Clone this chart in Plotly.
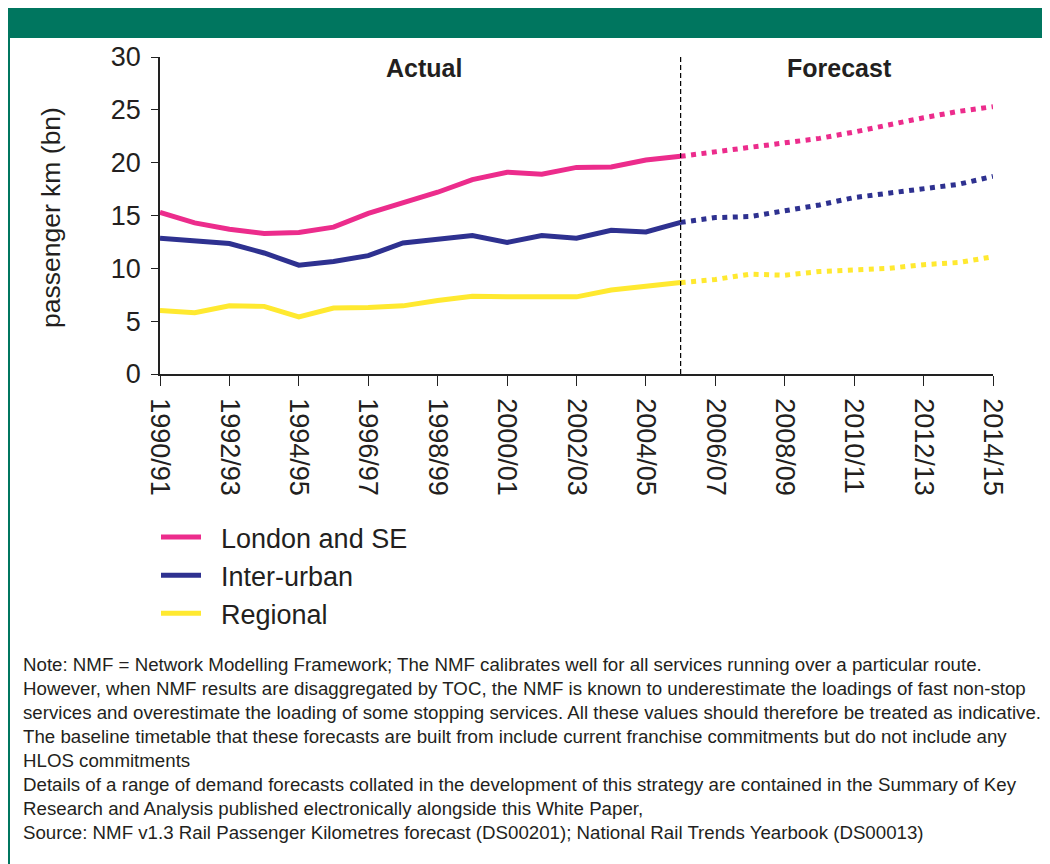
import plotly.graph_objects as go

# ---------------- data ----------------
years = ["1990/91", "1991/92", "1992/93", "1993/94", "1994/95", "1995/96", "1996/97",
         "1997/98", "1998/99", "1999/00", "2000/01", "2001/02", "2002/03", "2003/04",
         "2004/05", "2005/06", "2006/07", "2007/08", "2008/09", "2009/10", "2010/11",
         "2011/12", "2012/13", "2013/14", "2014/15"]
actual_years = years[:16]
forecast_years = years[15:]

london_actual = [15.3, 14.3, 13.7, 13.3, 13.4, 13.9, 15.2, 16.2, 17.2, 18.4, 19.1, 18.9,
                 19.55, 19.6, 20.25, 20.6]
interurban_actual = [12.85, 12.6, 12.35, 11.45, 10.3, 10.65, 11.2, 12.4, 12.7, 13.1,
                     12.45, 13.1, 12.85, 13.6, 13.45, 14.35]
regional_actual = [6.0, 5.8, 6.45, 6.4, 5.4, 6.25, 6.3, 6.45, 6.95, 7.35, 7.3, 7.3, 7.3,
                   7.95, 8.3, 8.65]

london_forecast = [20.6, 21.0, 21.4, 21.8, 22.3, 22.9, 23.6, 24.25, 24.85, 25.3]
interurban_forecast = [14.35, 14.8, 14.9, 15.4, 16.0, 16.7, 17.1, 17.5, 17.95, 18.7]
regional_forecast = [8.65, 8.95, 9.45, 9.35, 9.7, 9.9, 10.0, 10.35, 10.55, 11.1]

series_names = ["London and SE", "Inter-urban", "Regional"]
series_colors = ["#EC2C8C", "#2E3190", "#FFE930"]

tick_years = years[::2]
period_labels = ["Actual", "Forecast"]
divider_year = "2005/06"

note_lines = [
    "Note: NMF = Network Modelling Framework; The NMF calibrates well for all services running over a particular route.",
    "However, when NMF results are disaggregated by TOC, the NMF is known to underestimate the loadings of fast non-stop",
    "services and overestimate the loading of some stopping services. All these values should therefore be treated as indicative.",
    "The baseline timetable that these forecasts are built from include current franchise commitments but do not include any",
    "HLOS commitments",
    "Details of a range of demand forecasts collated in the development of this strategy are contained in the Summary of Key",
    "Research and Analysis published electronically alongside this White Paper,",
    "Source: NMF v1.3 Rail Passenger Kilometres forecast (DS00201); National Rail Trends Yearbook (DS00013)",
]

# ---------------- layout constants ----------------
W, H = 1050, 864
OFF = 8  # page body margin in the browser
ML = 160 - OFF
MT = 57 - OFF
PLOT_RIGHT = 993 - OFF
PLOT_BOTTOM = 374 - OFF
MR = W - PLOT_RIGHT
MB = H - PLOT_BOTTOM
PW, PH = W - ML - MR, H - MT - MB
FONT = "Liberation Sans, Arial, Helvetica, sans-serif"
TXT = "#231F20"
GREEN = "#00765F"


def px_x(p):
    """screen pixel x (as in the reference) -> paper fraction"""
    return (p - OFF - ML) / PW


def px_y(p):
    """screen pixel y (as in the reference) -> paper fraction"""
    return (PLOT_BOTTOM - (p - OFF)) / PH


fig = go.Figure()

actuals = [london_actual, interurban_actual, regional_actual]
forecasts = [london_forecast, interurban_forecast, regional_forecast]

for name, col, a in zip(series_names, series_colors, actuals):
    fig.add_trace(go.Scatter(x=actual_years, y=a, mode="lines",
                             name="&nbsp;&nbsp;" + name,
                             line=dict(color=col, width=5), showlegend=True))
for name, col, f in zip(series_names, series_colors, forecasts):
    fig.add_trace(go.Scatter(x=forecast_years, y=f, mode="lines", name=name + " forecast",
                             line=dict(color=col, width=5, dash="5px,5.5px"),
                             showlegend=False))

# divider
fig.add_shape(type="line", xref="x", yref="y", x0=divider_year, x1=divider_year,
              y0=0, y1=30.5, line=dict(color="#000000", width=1.2, dash="5px,3px"))

# header band and left border
fig.add_shape(type="rect", xref="paper", yref="paper", x0=px_x(8), x1=px_x(W + 20),
              y0=px_y(38), y1=px_y(-20), fillcolor=GREEN, line=dict(width=0), layer="below")
fig.add_shape(type="line", xref="paper", yref="paper", x0=px_x(9), x1=px_x(9),
              y0=px_y(38), y1=px_y(H + 20), line=dict(color=GREEN, width=2))

annotations = []
annotations.append(dict(text="<b>" + period_labels[0] + "</b>", x=px_x(424), y=px_y(68),
                        xref="paper", yref="paper", xanchor="center", yanchor="middle",
                        showarrow=False, font=dict(size=25, color=TXT, family=FONT)))
annotations.append(dict(text="<b>" + period_labels[1] + "</b>", x=px_x(839), y=px_y(68),
                        xref="paper", yref="paper", xanchor="center", yanchor="middle",
                        showarrow=False, font=dict(size=25, color=TXT, family=FONT)))
annotations.append(dict(text="passenger km (bn)", textangle=-90, x=px_x(51), y=px_y(218),
                        xref="paper", yref="paper", xanchor="center", yanchor="middle",
                        showarrow=False, font=dict(size=26.5, color=TXT, family=FONT)))
for i, line in enumerate(note_lines):
    annotations.append(dict(text=line, x=px_x(21), y=px_y(664 + 24 * i), xref="paper",
                            yref="paper", xanchor="left", yanchor="middle", showarrow=False,
                            font=dict(size=18.7, color=TXT, family=FONT)))

fig.update_layout(
    width=W, height=H,
    margin=dict(l=ML, r=MR, t=MT, b=MB, autoexpand=False),
    paper_bgcolor="white", plot_bgcolor="white",
    font=dict(family=FONT, color=TXT),
    showlegend=True,
    legend=dict(x=px_x(156), y=px_y(513), xanchor="left", yanchor="top",
                font=dict(size=27, color=TXT, family=FONT), itemwidth=40,
                bgcolor="rgba(0,0,0,0)", tracegroupgap=0),
    annotations=annotations,
    xaxis=dict(type="category", range=[0, 24], tickmode="array", tickvals=tick_years,
               ticktext=tick_years, tickangle=90, ticks="outside", ticklen=10,
               tickwidth=1.2, tickcolor="#222", showline=True, linecolor="#222",
               linewidth=1.5, showgrid=False, zeroline=False, ticklabelstandoff=7,
               tickfont=dict(size=27, color=TXT, family=FONT)),
    yaxis=dict(range=[0, 30], tickvals=[0, 5, 10, 15, 20, 25, 30], ticks="outside",
               ticklen=7, tickwidth=1.2, tickcolor="#222", showline=True,
               linecolor="#222", linewidth=1.5, showgrid=False, zeroline=False,
               ticklabelstandoff=5, tickfont=dict(size=27, color=TXT, family=FONT)),
)

fig.write_html("out.html")
